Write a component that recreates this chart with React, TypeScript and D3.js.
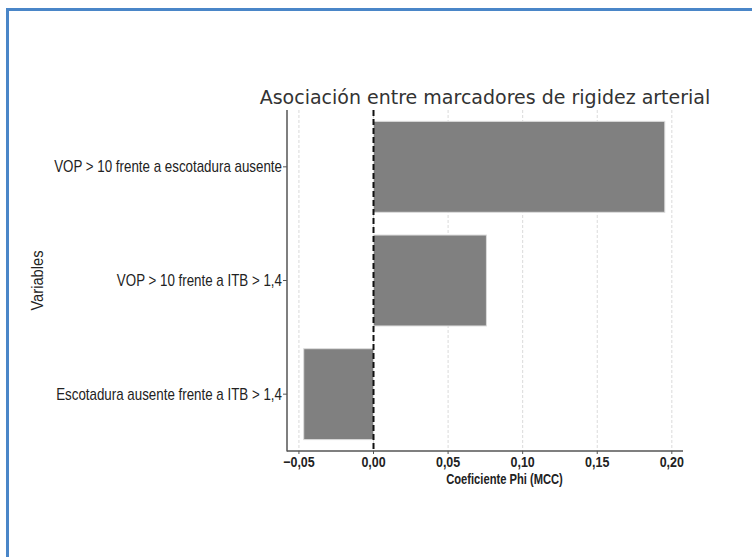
import React from "react";
import * as d3 from "d3";

const categories = [
  "VOP > 10 frente a escotadura ausente",
  "VOP > 10 frente a ITB > 1,4",
  "Escotadura ausente frente a ITB > 1,4",
];
const values = [0.1953, 0.0757, -0.0468];
const xTicks = [-0.05, 0, 0.05, 0.1, 0.15, 0.2];
const title = "Asociación entre marcadores de rigidez arterial";
const xLabel = "Coeficiente Phi (MCC)";
const yLabel = "Variables";

const W = 752;
const H = 557;
const M = { left: 287, right: 683, top: 110, bottom: 451 };

export default function App() {
  const x = d3.scaleLinear().domain([-0.058, 0.2075]).range([M.left, M.right]);
  const y = d3
    .scaleBand<string>()
    .domain(categories)
    .range([M.top, M.bottom])
    .paddingInner(0.2)
    .paddingOuter(0.1);
  const fmt = (v: number) =>
    (v < 0 ? "\u2212" : "") + Math.abs(v).toFixed(2).replace(".", ",");
  const labelFont = "'Liberation Sans', Arial, sans-serif";

  return (
    <svg
      width={W}
      height={H}
      style={{ position: "absolute", left: 0, top: 0, background: "#fff" }}
    >
      <rect x={0} y={0} width={W} height={H} fill="#fff" />
      <path d={`M7.5,${H} V9.5 H${W}`} fill="none" stroke="#4a86c8" strokeWidth={3} />

      {/* grid */}
      {xTicks.map((t) => (
        <line
          key={"g" + t}
          x1={x(t)}
          x2={x(t)}
          y1={M.top}
          y2={M.bottom}
          stroke="#d0d0d0"
          strokeWidth={0.8}
          strokeDasharray="3,2"
        />
      ))}

      {/* bars */}
      {categories.map((c, i) => {
        const v = values[i];
        const x0 = x(Math.min(0, v));
        const x1 = x(Math.max(0, v));
        return (
          <rect
            key={c}
            x={x0}
            y={y(c)}
            width={x1 - x0}
            height={y.bandwidth()}
            fill="#808080"
            stroke="#dcdcdc"
            strokeWidth={1}
          />
        );
      })}

      {/* zero line */}
      <line
        x1={x(0)}
        x2={x(0)}
        y1={M.top}
        y2={M.bottom}
        stroke="#111"
        strokeWidth={2}
        strokeDasharray="6,3"
      />

      {/* spines */}
      <line x1={M.left} x2={M.left} y1={M.top} y2={M.bottom + 0.5} stroke="#555" strokeWidth={1.5} />
      <line x1={M.left} x2={M.right} y1={M.bottom} y2={M.bottom} stroke="#555" strokeWidth={1.5} />

      {/* x ticks */}
      {xTicks.map((t) => (
        <g key={"t" + t}>
          <line x1={x(t)} x2={x(t)} y1={M.bottom} y2={M.bottom + 3} stroke="#555" strokeWidth={1} />
          <text
            transform={`translate(${x(t)},467) scale(0.86,1)`}
            textAnchor="middle"
            fontFamily={labelFont}
            fontWeight="bold"
            fontSize={14.5}
            fill="#222"
          >
            {fmt(t)}
          </text>
        </g>
      ))}

      {/* y ticks */}
      {categories.map((c) => {
        const cy = (y(c) as number) + y.bandwidth() / 2;
        return (
          <g key={"y" + c}>
            <line x1={M.left - 4} x2={M.left} y1={cy} y2={cy} stroke="#555" strokeWidth={1} />
            <text
              transform={`translate(${M.left - 5},${cy}) scale(0.835,1)`}
              dy="0.35em"
              textAnchor="end"
              fontFamily={labelFont}
              fontSize={16}
              fill="#222"
            >
              {c}
            </text>
          </g>
        );
      })}

      <text
        x={(M.left + M.right) / 2}
        y={104}
        textAnchor="middle"
        fontFamily="'DejaVu Sans', sans-serif"
        fontSize={19}
        fill="#333"
      >
        {title}
      </text>
      <text
        transform="translate(504.5,484) scale(0.77,1)"
        textAnchor="middle"
        fontFamily={labelFont}
        fontWeight="bold"
        fontSize={14.5}
        fill="#222"
      >
        {xLabel}
      </text>
      <text
        transform={`translate(43,${(M.top + M.bottom) / 2}) rotate(-90) scale(0.92,1)`}
        textAnchor="middle"
        fontFamily={labelFont}
        fontSize={16}
        fill="#222"
      >
        {yLabel}
      </text>
    </svg>
  );
}
